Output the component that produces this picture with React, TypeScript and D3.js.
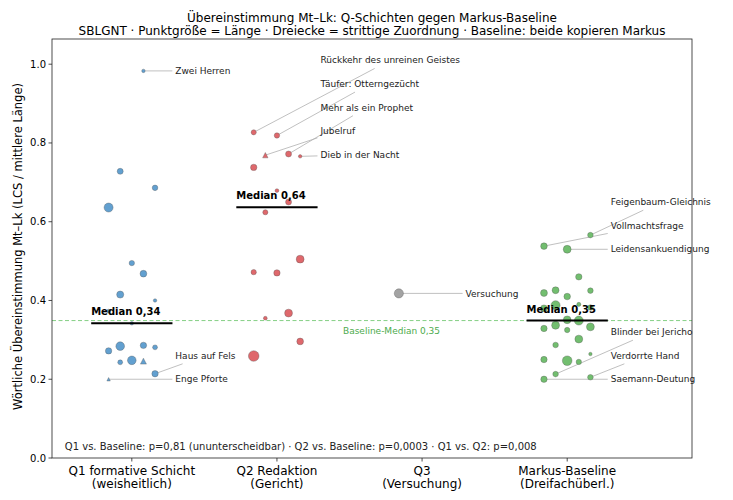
import * as d3 from "d3";

// Wörtliche Übereinstimmung Mt–Lk je Perikope (LCS / mittlere Länge), Länge in Wörtern
const categories = [
  ["Q1 formative Schicht", "(weisheitlich)"],
  ["Q2 Redaktion", "(Gericht)"],
  ["Q3", "(Versuchung)"],
  ["Markus-Baseline", "(Dreifachüberl.)"],
];

const q1Values = [0.983, 0.728, 0.686, 0.636, 0.495, 0.468, 0.415, 0.4, 0.373, 0.342, 0.286, 0.284, 0.281, 0.272, 0.248, 0.246, 0.243, 0.214, 0.2];
const q1Lengths = [10, 30, 26, 68, 24, 38, 42, 10, 12, 10, 34, 62, 20, 34, 62, 30, 20, 34, 10];
const q1Disputed = [0.246, 0.2];

const q2Values = [0.827, 0.819, 0.772, 0.769, 0.766, 0.738, 0.679, 0.65, 0.624, 0.505, 0.472, 0.47, 0.368, 0.355, 0.296, 0.259];
const q2Lengths = [22, 24, 30, 24, 10, 34, 12, 30, 22, 52, 24, 34, 52, 12, 38, 94];
const q2Disputed = [0.769];

const q3Values = [0.418];
const q3Lengths = [70];
const q3Disputed: number[] = [];

const markusValues = [0.566, 0.538, 0.53, 0.46, 0.426, 0.425, 0.419, 0.41, 0.39, 0.388, 0.382, 0.38, 0.351, 0.349, 0.337, 0.333, 0.329, 0.325, 0.302, 0.287, 0.264, 0.25, 0.247, 0.244, 0.213, 0.205, 0.2];
const markusLengths = [26, 36, 52, 34, 40, 26, 40, 36, 14, 68, 26, 40, 50, 68, 52, 52, 34, 24, 52, 26, 10, 34, 78, 24, 26, 26, 34];
const markusDisputed: number[] = [];

// Beschriftete Perikopen: [Gruppe, Wert, Text]
const labelled: [number, number, string][] = [
  [0, 0.983, "Zwei Herren"],
  [0, 0.214, "Haus auf Fels"],
  [0, 0.2, "Enge Pforte"],
  [1, 0.827, "Rückkehr des unreinen Geistes"],
  [1, 0.819, "Täufer: Otterngezücht"],
  [1, 0.772, "Mehr als ein Prophet"],
  [1, 0.769, "Jubelruf"],
  [1, 0.766, "Dieb in der Nacht"],
  [2, 0.418, "Versuchung"],
  [3, 0.566, "Feigenbaum-Gleichnis"],
  [3, 0.538, "Vollmachtsfrage"],
  [3, 0.53, "Leidensankuendigung"],
  [3, 0.213, "Blinder bei Jericho"],
  [3, 0.205, "Verdorrte Hand"],
  [3, 0.2, "Saemann-Deutung"],
];
// y-Lage der Beschriftungen (gestaffelt)
const labelY = [0.983, 0.26, 0.2, 1.01, 0.95, 0.89, 0.83, 0.77, 0.418, 0.65, 0.59, 0.53, 0.32, 0.26, 0.2];

const yTicks = [0, 0.2, 0.4, 0.6, 0.8, 1.0];
const pValuesNote = "Q1 vs. Baseline: p=0,81 (ununterscheidbar) · Q2 vs. Baseline: p=0,0003 · Q1 vs. Q2: p=0,008";

const groups = [
  { values: q1Values, lengths: q1Lengths, disputed: q1Disputed, color: "#62a0d0" },
  { values: q2Values, lengths: q2Lengths, disputed: q2Disputed, color: "#df686c" },
  { values: q3Values, lengths: q3Lengths, disputed: q3Disputed, color: "#a3a3a3" },
  { values: markusValues, lengths: markusLengths, disputed: markusDisputed, color: "#72be6f" },
];

const W = 733;
const H = 500;
const left = 52, right = 692, top = 39, bottom = 458;
const FONT = "DejaVu Sans, Verdana, sans-serif";
const jitterSteps = [-2, 2, -1, 1, 0];

let ctx: CanvasRenderingContext2D | null = null;
function textWidth(t: string, size: number) {
  if (!ctx) ctx = document.createElement("canvas").getContext("2d");
  if (!ctx) return t.length * size * 0.55;
  ctx.font = `${size}px "DejaVu Sans"`;
  return ctx.measureText(t).width;
}

export default function App() {
  const x = d3.scaleLinear().domain([-0.55, 3.86]).range([left, right]);
  const y = d3.scaleLinear().domain([0, 1.064]).range([bottom, top]);
  const r = d3.scaleSqrt().domain([0, 100]).range([0, 5.47]);

  // deterministic jitter: sort ascending, cycle offsets
  const points = groups.map((g, gi) => {
    const order = d3.range(g.values.length).sort((a, b) => g.values[a] - g.values[b]);
    return order.map((idx, rank) => ({
      gi,
      v: g.values[idx],
      len: g.lengths[idx],
      tri: g.disputed.includes(g.values[idx]),
      dx: jitterSteps[rank % 5] * 0.08,
    }));
  });

  const baseline = d3.median(markusValues) as number;
  const fmt = (v: number) => d3.format(".2f")(v).replace(".", ",");

  const labelMarks = labelled.map(([gi, v, text], i) => {
    const p = points[gi].find((q) => q.v === v)!;
    const px = x(gi + p.dx);
    const py = y(p.v);
    const lx = x(gi + 0.3);
    const ly = y(labelY[i]);
    const w = textWidth(text, 9);
    const cx = lx + w / 2;
    const hw = w / 2 + 3;
    const hh = 8.2;
    const ddx = px - cx;
    const ddy = py - ly;
    const t = Math.min(ddx !== 0 ? hw / Math.abs(ddx) : Infinity, ddy !== 0 ? hh / Math.abs(ddy) : Infinity);
    return { text, px, py, lx, ly, ex: cx + ddx * t, ey: ly + ddy * t, show: t < 1 };
  });

  return (
    <svg width={W} height={H} style={{ position: "absolute", left: 0, top: 0, background: "#fff" }} fontFamily={FONT}>
      <text x={(left + right) / 2} y={21.5} textAnchor="middle" fontSize={12} fill="#000">
        Übereinstimmung Mt–Lk: Q-Schichten gegen Markus-Baseline
      </text>
      <text x={(left + right) / 2} y={35} textAnchor="middle" fontSize={12} fill="#000">
        SBLGNT · Punktgröße = Länge · Dreiecke = strittige Zuordnung · Baseline: beide kopieren Markus
      </text>

      {/* baseline */}
      <line x1={left} x2={right} y1={y(baseline)} y2={y(baseline)} stroke="#86cf86" strokeWidth={1} strokeDasharray="4,2.5" />

      {/* annotation leader lines */}
      {labelMarks.map((m, i) =>
        m.show ? <line key={i} x1={m.px} y1={m.py} x2={m.ex} y2={m.ey} stroke="#b0b0b0" strokeWidth={0.8} /> : null
      )}

      {/* points */}
      {points.flat().map((p, i) => {
        const cx = x(p.gi + p.dx);
        const cy = y(p.v);
        const rad = r(p.len);
        const fill = groups[p.gi].color;
        return p.tri ? (
          <path
            key={i}
            d={`M${cx},${cy - rad}L${cx - rad},${cy + rad}L${cx + rad},${cy + rad}Z`}
            fill={fill}
            stroke="#555"
            strokeOpacity={0.7}
            strokeWidth={0.5}
          />
        ) : (
          <circle key={i} cx={cx} cy={cy} r={rad} fill={fill} stroke="#555" strokeOpacity={0.7} strokeWidth={0.5} />
        );
      })}

      {/* medians */}
      {groups.map((g, gi) => {
        if (g.values.length < 2) return null;
        const m = d3.median(g.values) as number;
        return (
          <g key={gi}>
            <line x1={x(gi - 0.28)} x2={x(gi + 0.28)} y1={y(m)} y2={y(m)} stroke="#000" strokeWidth={2} />
            <text x={x(gi - 0.28)} y={y(m) - 8} fontSize={10} fontWeight="bold" fill="#000">
              {`Median ${fmt(m)}`}
            </text>
          </g>
        );
      })}

      <text x={x(1.455)} y={y(baseline) + 13.5} fontSize={9} fill="#4dab4d">
        {`Baseline-Median ${fmt(baseline)}`}
      </text>

      {labelMarks.map((m, i) => (
        <text key={i} x={m.lx} y={m.ly} dy="0.35em" fontSize={9} fill="#222">
          {m.text}
        </text>
      ))}

      <text x={left + 0.02 * (right - left)} y={449.5} fontSize={10} fill="#222">
        {pValuesNote}
      </text>

      {/* frame */}
      <rect x={left} y={top} width={right - left} height={bottom - top} fill="none" stroke="#222" strokeWidth={0.8} />

      {/* y axis */}
      {yTicks.map((t) => (
        <g key={t}>
          <line x1={left - 3.5} x2={left} y1={y(t)} y2={y(t)} stroke="#222" strokeWidth={0.8} />
          <text x={left - 6} y={y(t)} dy="0.35em" textAnchor="end" fontSize={10} fill="#000">
            {d3.format(".1f")(t)}
          </text>
        </g>
      ))}
      <text transform={`translate(18,${(top + bottom) / 2 - 2}) rotate(-90)`} textAnchor="middle" dy="0.35em" fontSize={11.5} fill="#000">
        Wörtliche Übereinstimmung Mt–Lk (LCS / mittlere Länge)
      </text>

      {/* x axis */}
      {categories.map((c, i) => (
        <g key={i}>
          <line x1={x(i)} x2={x(i)} y1={bottom} y2={bottom + 3.5} stroke="#222" strokeWidth={0.8} />
          <text x={x(i)} y={474.5} textAnchor="middle" fontSize={12} fill="#000">
            {c[0]}
          </text>
          <text x={x(i)} y={487.5} textAnchor="middle" fontSize={12} fill="#000">
            {c[1]}
          </text>
        </g>
      ))}
    </svg>
  );
}
